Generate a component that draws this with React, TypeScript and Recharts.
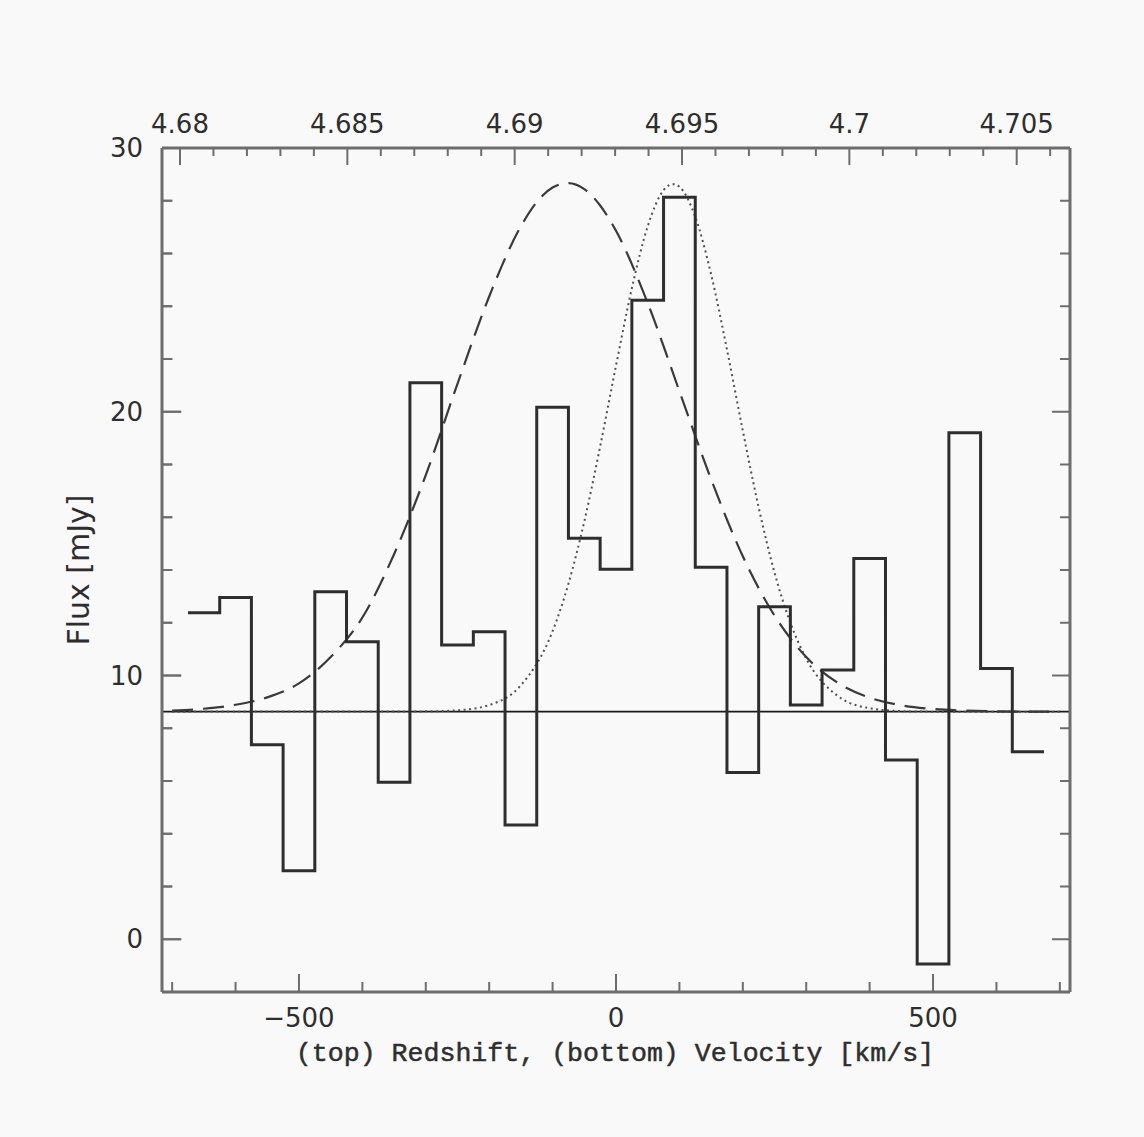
import React from "react";
import { LineChart, Line, XAxis, YAxis, ReferenceLine } from "recharts";

// histogram bins (km/s centres, 50 km/s wide) and flux in mJy
const binCenters = [
  -650, -600, -550, -500, -450, -400, -350, -300, -250, -200, -150, -100, -50, 0,
  50, 100, 150, 200, 250, 300, 350, 400, 450, 500, 550, 600, 650,
];
const binFlux = [
  12.38, 12.96, 7.37, 2.6, 13.18, 11.28, 5.95, 21.1, 11.16, 11.66, 4.33, 20.17,
  15.2, 14.03, 24.23, 28.13, 14.1, 6.32, 12.61, 8.88, 10.21, 14.44, 6.8, -0.94,
  19.2, 10.27, 7.11,
];
const binWidth = 50;

// continuum level, across the whole redshift range
const continuumZ = [4.679462, 4.706593];
const continuumFlux = [8.63, 8.63];

// broad (dashed) profile
const broadVel = [
  -700, -650, -600, -550, -500, -450, -400, -350, -300, -250, -200, -150, -125,
  -100, -75, -50, -25, 0, 50, 100, 150, 200, 250, 300, 350, 400, 450, 500, 550,
  600, 650, 700,
];
const broadFlux = [
  8.67, 8.74, 8.89, 9.17, 9.7, 10.7, 12.2, 14.6, 17.6, 21.06, 24.37, 27.03, 27.95,
  28.5, 28.67, 28.44, 27.82, 26.86, 24.12, 20.78, 17.44, 14.52, 12.27, 10.7, 9.72,
  9.16, 8.87, 8.73, 8.67, 8.64, 8.63, 8.63,
];

// narrow (dotted) profile
const narrowVel = [
  -700, -300, -250, -200, -150, -100, -75, -50, -25, 0, 25, 50, 75, 90, 100, 125,
  150, 175, 200, 225, 250, 275, 300, 350, 400, 450, 500, 700,
];
const narrowFlux = [
  8.63, 8.64, 8.68, 8.88, 9.63, 11.68, 13.48, 15.84, 18.68, 21.75, 24.68, 27.03,
  28.4, 28.63, 28.53, 27.39, 25.21, 22.36, 19.28, 16.37, 13.9, 12.0, 10.64, 9.22,
  8.76, 8.65, 8.63, 8.63,
];

const velDomain = [-716, 716];
const velTicks = [-700, -600, -500, -400, -300, -200, -100, 0, 100, 200, 300, 400, 500, 600, 700];
const velMajor = [-500, 0, 500];
const zTicks = [
  4.68, 4.681, 4.682, 4.683, 4.684, 4.685, 4.686, 4.687, 4.688, 4.689, 4.69, 4.691,
  4.692, 4.693, 4.694, 4.695, 4.696, 4.697, 4.698, 4.699, 4.7, 4.701, 4.702, 4.703,
  4.704, 4.705, 4.706,
];
const zMajor = [4.68, 4.685, 4.69, 4.695, 4.7, 4.705];
const fluxTicks = [-2, 0, 2, 4, 6, 8, 10, 12, 14, 16, 18, 20, 22, 24, 26, 28, 30];
const fluxMajor = [0, 10, 20, 30];

const histData = [
  ...binCenters.map((c, i) => ({ v: c - binWidth / 2, flux: binFlux[i] })),
  {
    v: binCenters[binCenters.length - 1] + binWidth / 2,
    flux: binFlux[binFlux.length - 1],
  },
];
const broadData = broadVel.map((v, i) => ({ v, flux: broadFlux[i] }));
const narrowData = narrowVel.map((v, i) => ({ v, flux: narrowFlux[i] }));
const continuumData = continuumZ.map((z, i) => ({ z, flux: continuumFlux[i] }));

const FRAME = "#6d6d6d";
const INK = "#2e2e2e";
const tickFont = { fontFamily: "DejaVu Sans", fontSize: 26, fill: INK };
// inner tick length on the left side, in km/s (about 19 px / 10 px)
const LEFT_MAJOR = 30;
const LEFT_MINOR = 16;

const fmt = (v: number) => (v < 0 ? "\u2212" + Math.abs(v) : String(v));

function VelTick({ x, y, payload }: any) {
  const major = velMajor.includes(payload.value);
  return (
    <g>
      <line x1={x} y1={y} x2={x} y2={y - (major ? 18 : 10)} stroke={FRAME} strokeWidth={2} />
      {major && (
        <text x={x} y={y + 35} textAnchor="middle" {...tickFont}>
          {fmt(payload.value)}
        </text>
      )}
    </g>
  );
}

function ZTick({ x, y, payload }: any) {
  const major = zMajor.includes(payload.value);
  return (
    <g>
      <line x1={x} y1={y} x2={x} y2={y + (major ? 17 : 8)} stroke={FRAME} strokeWidth={2} />
      {major && (
        <text x={x} y={y - 15} textAnchor="middle" {...tickFont}>
          {String(payload.value)}
        </text>
      )}
    </g>
  );
}

function FluxTick({ x, y, payload }: any) {
  const major = fluxMajor.includes(payload.value);
  return (
    <g>
      <line x1={x} y1={y} x2={x + (major ? 19 : 10)} y2={y} stroke={FRAME} strokeWidth={2} />
      {major && (
        <text x={x - 19} y={y + 9} textAnchor="end" {...tickFont}>
          {fmt(payload.value)}
        </text>
      )}
    </g>
  );
}

function FluxTickRight({ x, y, payload }: any) {
  const major = fluxMajor.includes(payload.value);
  return (
    <line x1={x} y1={y} x2={x - (major ? 18 : 10)} y2={y} stroke={FRAME} strokeWidth={2} />
  );
}

const AxisTitles = () => (
  <g>
    <text
      x={615}
      y={1061}
      textAnchor="middle"
      fontFamily="Liberation Mono"
      fontSize={26.6}
      fill={INK}
      stroke={INK}
      strokeWidth={0.5}
    >
      (top) Redshift, (bottom) Velocity [km/s]
    </text>
    <text
      x={78}
      y={570}
      textAnchor="middle"
      dominantBaseline="central"
      transform="rotate(-90 78 570)"
      fontFamily="DejaVu Sans"
      fontSize={30}
      fill={INK}
    >
      Flux [mJy]
    </text>
  </g>
);

export default function App() {
  return (
    <div
      style={{
        position: "fixed",
        left: 0,
        top: 0,
        width: 1144,
        height: 1137,
        background: "#f9f9f9",
      }}
    >
      <LineChart
        width={1144}
        height={1137}
        margin={{ top: 88, right: 54, bottom: 85, left: 82 }}
      >
        <XAxis
          xAxisId="vel"
          dataKey="v"
          type="number"
          domain={velDomain}
          allowDataOverflow
          ticks={velTicks}
          interval={0}
          tickSize={0}
          tickMargin={0}
          tickLine={false}
          tick={(p: any) => <VelTick {...p} />}
          axisLine={{ stroke: FRAME, strokeWidth: 3 }}
          height={60}
          label={() => <AxisTitles />}
        />
        <XAxis
          xAxisId="z"
          dataKey="z"
          orientation="top"
          type="number"
          domain={[continuumZ[0], continuumZ[1]]}
          allowDataOverflow
          ticks={zTicks}
          interval={0}
          tickSize={0}
          tickMargin={0}
          tickLine={false}
          tick={(p: any) => <ZTick {...p} />}
          axisLine={{ stroke: FRAME, strokeWidth: 3 }}
          height={60}
        />
        <YAxis
          yAxisId="flux"
          type="number"
          domain={[-2, 30]}
          allowDataOverflow
          ticks={fluxTicks}
          interval={0}
          tickSize={0}
          tickMargin={0}
          tickLine={false}
          tick={(p: any) => <FluxTick {...p} />}
          axisLine={{ stroke: FRAME, strokeWidth: 3 }}
          width={80}
        />
        <YAxis
          yAxisId="fluxR"
          orientation="right"
          type="number"
          domain={[-2, 30]}
          allowDataOverflow
          ticks={fluxTicks}
          interval={0}
          tickSize={0}
          tickMargin={0}
          tickLine={false}
          tick={(p: any) => <FluxTickRight {...p} />}
          axisLine={{ stroke: FRAME, strokeWidth: 3 }}
          width={20}
        />
        {fluxTicks
          .filter((t) => t > -2 && t < 30)
          .map((t) => (
            <ReferenceLine
              key={`lt-${t}`}
              xAxisId="vel"
              yAxisId="flux"
              ifOverflow="visible"
              segment={[
                { x: velDomain[0] + 0.5, y: t },
                {
                  x: velDomain[0] + 0.5 + (fluxMajor.includes(t) ? LEFT_MAJOR : LEFT_MINOR),
                  y: t,
                },
              ]}
              stroke={FRAME}
              strokeWidth={2}
            />
          ))}
        <Line
          xAxisId="z"
          yAxisId="fluxR"
          data={continuumData}
          dataKey="flux"
          type="linear"
          stroke="#1a1a1a"
          strokeWidth={1.6}
          dot={false}
          activeDot={false}
          isAnimationActive={false}
        />
        <Line
          xAxisId="vel"
          yAxisId="flux"
          data={narrowData}
          dataKey="flux"
          type="monotone"
          stroke="#505050"
          strokeWidth={2}
          strokeDasharray="2 3.5"
          dot={false}
          activeDot={false}
          isAnimationActive={false}
        />
        <Line
          xAxisId="vel"
          yAxisId="flux"
          data={broadData}
          dataKey="flux"
          type="monotone"
          stroke="#3a3a3a"
          strokeWidth={2.2}
          strokeDasharray="21 10"
          dot={false}
          activeDot={false}
          isAnimationActive={false}
        />
        <Line
          xAxisId="vel"
          yAxisId="flux"
          data={histData}
          dataKey="flux"
          type="stepAfter"
          stroke={INK}
          strokeWidth={3}
          dot={false}
          activeDot={false}
          isAnimationActive={false}
        />
      </LineChart>
    </div>
  );
}
